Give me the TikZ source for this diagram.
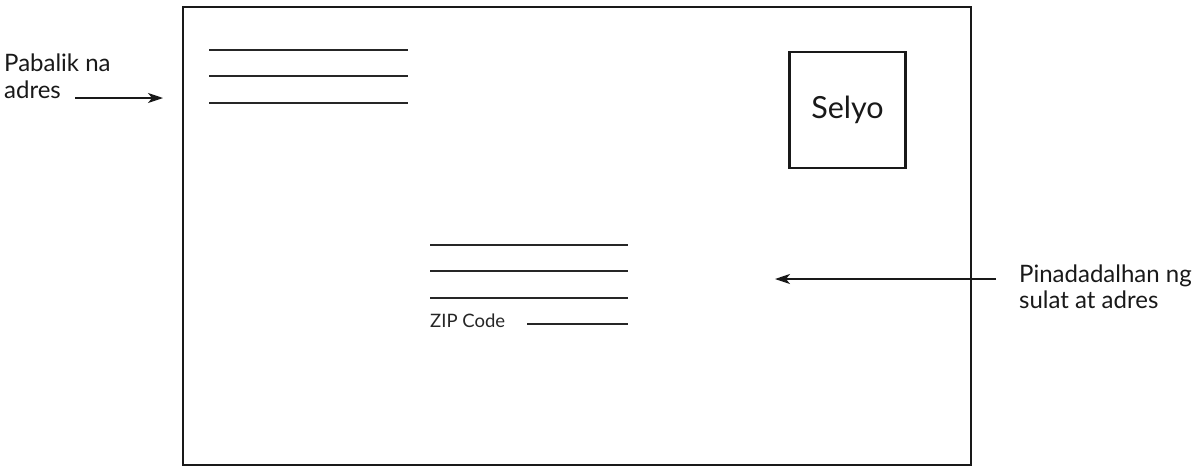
\documentclass[tikz,border=0pt]{standalone}
\usepackage{fontspec}
\setmainfont{Lato}
\usetikzlibrary{arrows.meta}
\begin{document}
\begin{tikzpicture}[x=1pt,y=-1pt,
  frame/.style={draw=black!90,line width=2.4pt},
  addrline/.style={draw=black!85,line width=1.1pt},
  arr/.style={draw=black!90,line width=1.3pt,-{Stealth[length=15pt,width=10pt,inset=4pt]}},
  lbl/.style={anchor=base west,inner sep=0pt,font=\fontsize{24}{28}\selectfont,text=black!90},
  small/.style={anchor=base west,inner sep=0pt,font=\fontsize{18.5}{21}\selectfont,text=black!85}]
\useasboundingbox (0,0) rectangle (1197,469);
\draw[frame] (183,7) rectangle (971,465);
% return address lines
\draw[addrline] (209,50) -- (408,50);
\draw[addrline] (209,76) -- (408,76);
\draw[addrline] (209,103) -- (408,103);
% stamp
\node[frame,minimum width=116pt,minimum height=116pt,inner sep=0pt,
  font=\fontsize{30.5}{34}\selectfont,text=black!90] (stamp) at (847.5,110) {Selyo};
% recipient lines
\draw[addrline] (430,245) -- (628,245);
\draw[addrline] (430,271) -- (628,271);
\draw[addrline] (430,298) -- (628,298);
\node[small] (zip) at (430,327) {ZIP Code};
\draw[addrline] (527,324) -- (628,324);
% labels
\node[lbl] (ret1) at (4,71) {Pabalik na};
\node[lbl] (ret2) at (4,98) {adres};
\coordinate (ra) at (75,98);
\coordinate (rb) at (163,98);
\draw[arr] (ra) -- (rb);
\node[lbl] (rec1) at (1019,282) {Pinadadalhan ng};
\node[lbl] (rec2) at (1019,308) {sulat at adres};
\coordinate (sa) at (996,279);
\coordinate (sb) at (775,279);
\draw[arr] (sa) -- (sb);
\end{tikzpicture}
\end{document}
